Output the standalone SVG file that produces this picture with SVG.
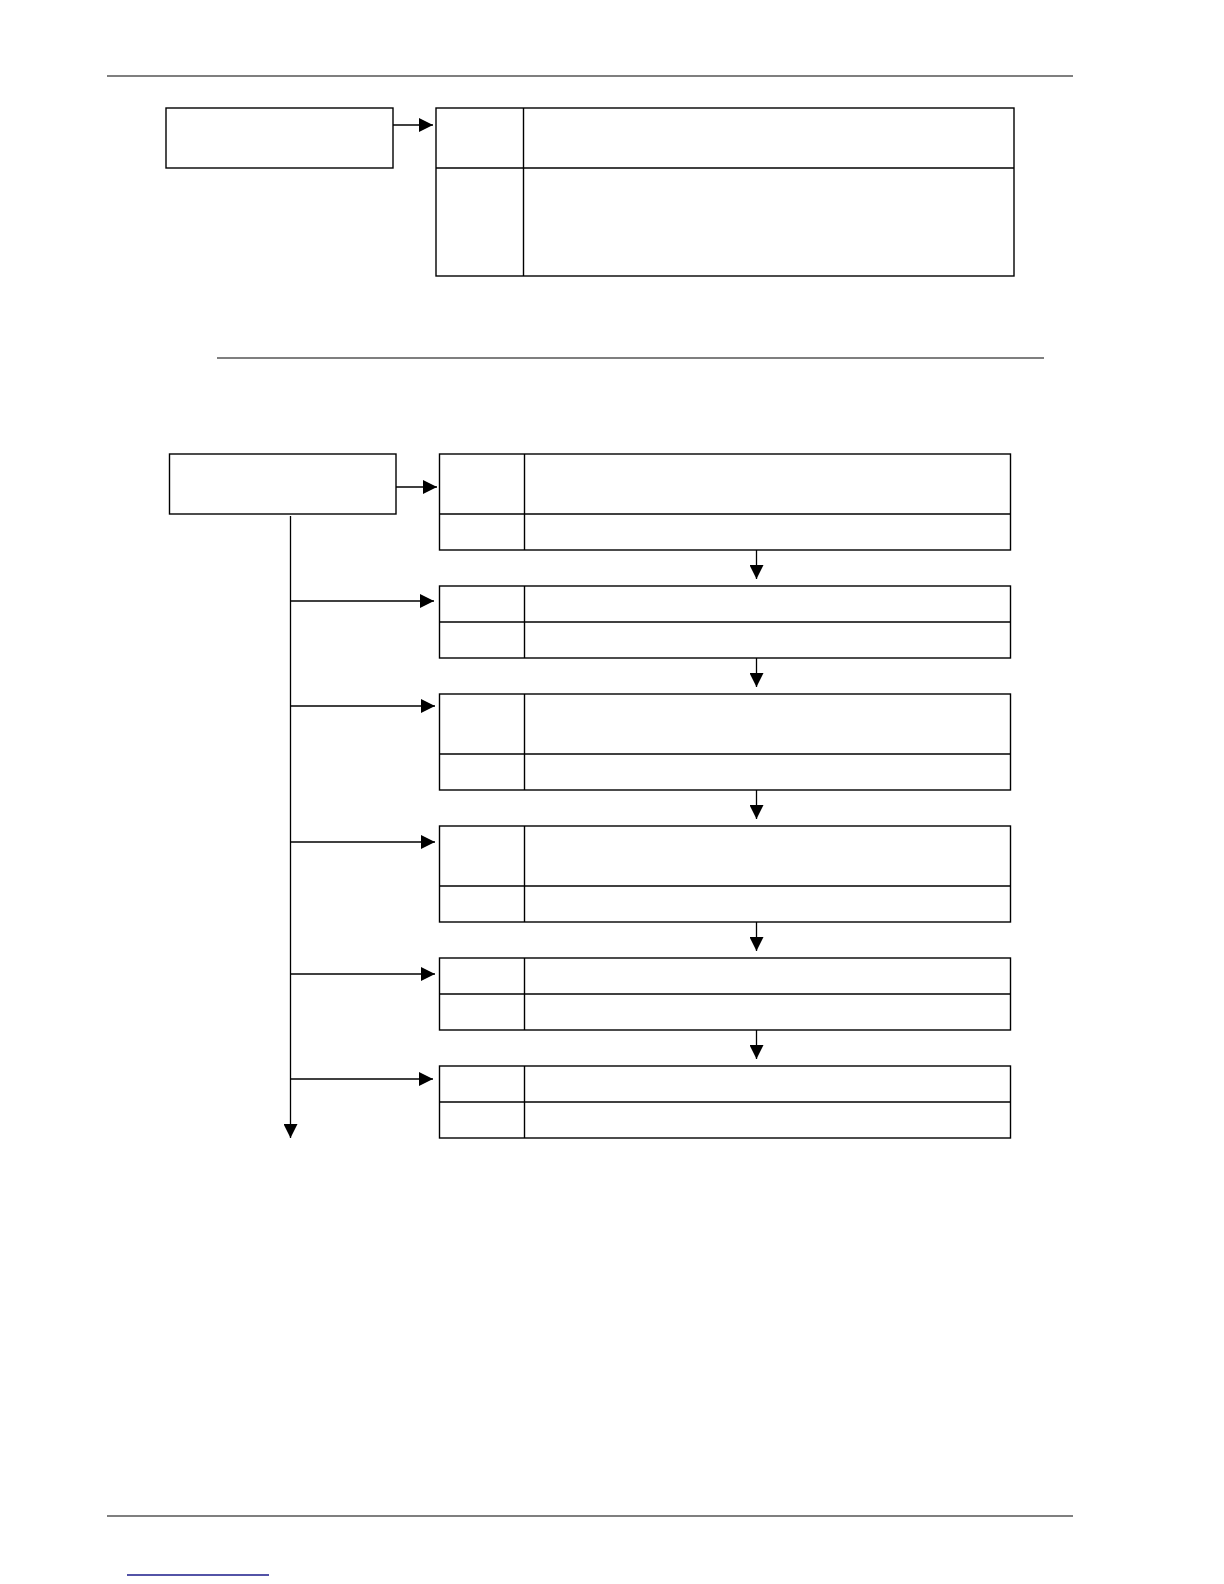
<svg xmlns="http://www.w3.org/2000/svg" width="1224" height="1584" viewBox="0 0 1224 1584">
<style>
.box{fill:#fff;stroke:#000;stroke-width:1.4}
.div{stroke:#000;stroke-width:1.4;fill:none}
.rule{stroke:#555;stroke-width:1.5}
.con{stroke:#000;stroke-width:1.3;fill:none}
</style>
<defs>
<marker id="ah" markerUnits="userSpaceOnUse" markerWidth="15" markerHeight="14" refX="14" refY="7" orient="auto">
<path d="M0,0 L14,7 L0,14 z" fill="#000"/>
</marker>
</defs>
<rect width="1224" height="1584" fill="#fff"/>
<g id="rules">
<line class="rule" x1="107" y1="76" x2="1073" y2="76"/>
<line class="rule" x1="217" y1="358" x2="1044" y2="358"/>
<line class="rule" x1="107" y1="1516" x2="1073" y2="1516"/>
<line x1="127" y1="1575" x2="269" y2="1575" stroke="#1a1a8a" stroke-width="1.6"/>
</g>
<g id="top-source"><rect class="box" x="166" y="108" width="227" height="60"/></g>
<g id="top-table">
<rect class="box" x="436" y="108" width="578" height="168"/>
<line class="div" x1="436" y1="168" x2="1014" y2="168"/>
<line class="div" x1="523.5" y1="108" x2="523.5" y2="276"/>
</g>
<g id="mid-source"><rect class="box" x="169.5" y="454" width="226.5" height="60"/></g>
<g id="table1">
<rect class="box" x="439.5" y="454" width="571" height="96"/>
<line class="div" x1="439.5" y1="514" x2="1010.5" y2="514"/>
<line class="div" x1="524.5" y1="454" x2="524.5" y2="550"/>
</g>
<g id="table2">
<rect class="box" x="439.5" y="586" width="571" height="72"/>
<line class="div" x1="439.5" y1="622" x2="1010.5" y2="622"/>
<line class="div" x1="524.5" y1="586" x2="524.5" y2="658"/>
</g>
<g id="table3">
<rect class="box" x="439.5" y="694" width="571" height="96"/>
<line class="div" x1="439.5" y1="754" x2="1010.5" y2="754"/>
<line class="div" x1="524.5" y1="694" x2="524.5" y2="790"/>
</g>
<g id="table4">
<rect class="box" x="439.5" y="826" width="571" height="96"/>
<line class="div" x1="439.5" y1="886" x2="1010.5" y2="886"/>
<line class="div" x1="524.5" y1="826" x2="524.5" y2="922"/>
</g>
<g id="table5">
<rect class="box" x="439.5" y="958" width="571" height="72"/>
<line class="div" x1="439.5" y1="994" x2="1010.5" y2="994"/>
<line class="div" x1="524.5" y1="958" x2="524.5" y2="1030"/>
</g>
<g id="table6">
<rect class="box" x="439.5" y="1066" width="571" height="72"/>
<line class="div" x1="439.5" y1="1102" x2="1010.5" y2="1102"/>
<line class="div" x1="524.5" y1="1066" x2="524.5" y2="1138"/>
</g>
<g id="connectors">
<line class="con" x1="393" y1="125" x2="433" y2="125" marker-end="url(#ah)"/>
<line class="con" x1="396" y1="487" x2="437" y2="487" marker-end="url(#ah)"/>
<line class="con" x1="290.5" y1="516" x2="290.5" y2="1138" marker-end="url(#ah)"/>
<line class="con" x1="290.5" y1="601" x2="434" y2="601" marker-end="url(#ah)"/>
<line class="con" x1="290.5" y1="706" x2="435" y2="706" marker-end="url(#ah)"/>
<line class="con" x1="290.5" y1="842" x2="435" y2="842" marker-end="url(#ah)"/>
<line class="con" x1="290.5" y1="974" x2="435" y2="974" marker-end="url(#ah)"/>
<line class="con" x1="290.5" y1="1079" x2="433" y2="1079" marker-end="url(#ah)"/>
<line class="con" x1="756.5" y1="550" x2="756.5" y2="579" marker-end="url(#ah)"/>
<line class="con" x1="756.5" y1="658" x2="756.5" y2="687" marker-end="url(#ah)"/>
<line class="con" x1="756.5" y1="790" x2="756.5" y2="819" marker-end="url(#ah)"/>
<line class="con" x1="756.5" y1="922" x2="756.5" y2="951" marker-end="url(#ah)"/>
<line class="con" x1="756.5" y1="1030" x2="756.5" y2="1059" marker-end="url(#ah)"/>
</g>
</svg>
